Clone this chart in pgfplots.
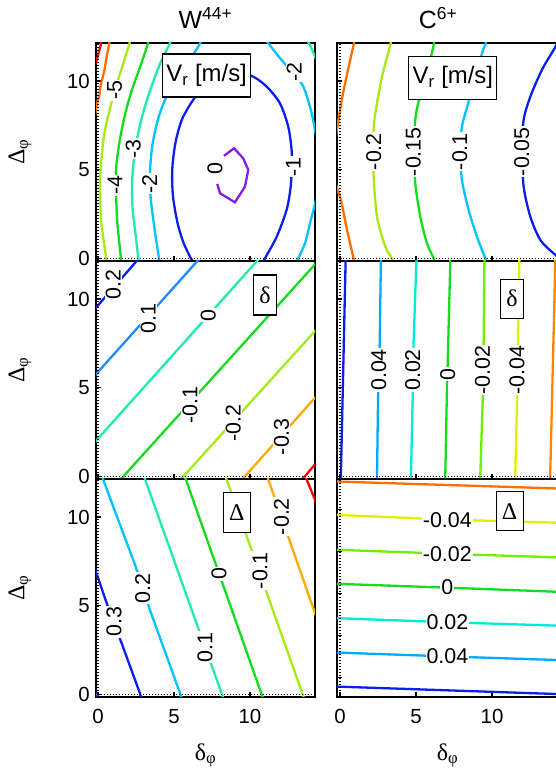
\documentclass[border=0pt]{standalone}
\usepackage{pgfplots}
\pgfplotsset{compat=1.18}
\usepackage{fontspec}
\setmainfont{Liberation Sans}
\newfontfamily\grk{Liberation Serif}

% jet-like contour colours
\definecolor{cRed}{RGB}{250,0,0}
\definecolor{cOrange}{RGB}{255,110,0}
\definecolor{cOrangeB}{RGB}{255,135,0}
\definecolor{cAmber}{RGB}{255,170,0}
\definecolor{cYellow}{RGB}{225,240,0}
\definecolor{cYG}{RGB}{165,235,20}
\definecolor{cLime}{RGB}{110,240,0}
\definecolor{cGreen}{RGB}{20,220,30}
\definecolor{cTeal}{RGB}{30,235,175}
\definecolor{cAqua}{RGB}{0,235,215}
\definecolor{cCyan}{RGB}{0,195,255}
\definecolor{cSky}{RGB}{0,170,255}
\definecolor{cMid}{RGB}{30,140,255}
\definecolor{cBlue}{RGB}{10,30,240}
\definecolor{cPurple}{RGB}{130,30,230}

\newcommand\tickfont{\fontsize{20.5}{21}\selectfont}
\newcommand\lblfont{\fontsize{21.5}{22}\selectfont}
\newcommand\bigfont{\fontsize{24}{26}\selectfont}
\newcommand\titlefont{\fontsize{25}{27}\selectfont}

\pgfplotsset{
  panel/.style={
    scale only axis, height=218bp,
    ymin=-0.15, ymax=12.15,
    axis line style={line width=1.8bp},
    tick style={line width=1.3bp, black},
    major tick length=5bp,
    tick align=inside,
    xtick pos=left, ytick pos=left,
    xtick={0,5,10}, ytick={0,5,10},
    tick label style={font=\tickfont, inner sep=0pt},
    xticklabel style={yshift=-12bp},
    yticklabel style={xshift=-6bp},
    /pgf/number format/assume math mode=true,
    every axis title/.style={at={(axis description cs:0.5,1)}, anchor=south,
      yshift=14bp, inner sep=0pt, font=\titlefont},
    every axis x label/.style={at={(axis description cs:0.5,-0.268)},
      anchor=center, font=\bigfont\grk},
    every axis y label/.style={at={(axis description cs:-0.347,0.5)},
      rotate=90, anchor=center, font=\bigfont\grk},
  },
  leftcol/.style={panel, width=219bp, xmin=-0.13, xmax=14.28},
  rightcol/.style={panel, width=221bp, xmin=-0.2, xmax=14.34, yticklabels={}},
  nox/.style={xticklabels={}},
  cl/.style={line width=2.3bp},
  zl/.style={line width=1.4bp, dash pattern=on 1.4bp off 1.6bp, black},
}
\tikzset{
  lab/.style={font=\lblfont, fill=white, inner sep=1bp, rotate=90},
  hlab/.style={font=\lblfont, fill=white, inner sep=1bp},
  tag/.style={draw, line width=1.3bp, fill=white, inner sep=0pt, font=\bigfont},
}

\begin{document}
\begin{tikzpicture}

% ---------------- V_r, W44+ ----------------
\begin{axis}[leftcol, nox, at={(96bp,509bp)}, anchor=south west,
  title={W\textsuperscript{44+}}, ylabel={Δ\textsubscript{φ}}]
\addplot[cl, cRed, smooth] coordinates {(0.25,12.3) (0.18,12.02) (0.0,11.46) (-0.15,11.0)};
\addplot[cl, cOrange, smooth] coordinates {(0.78,12.3) (0.72,12.02) (0.55,11.27) (0.40,10.52) (0.18,9.76) (0.07,9.11) (-0.04,8.82) (-0.3,7.5)};
\addplot[cl, cYG, smooth] coordinates {(2.1,12.3) (2.04,12.02) (1.45,10.42) (1.10,9.48) (0.79,8.45) (0.40,6.94) (0.18,5.06) (0.13,3.74) (0.22,2.05) (0.51,0.17) (0.55,-0.2)};
\addplot[cl, cGreen, smooth] coordinates {(3.32,12.3) (3.25,12.02) (2.81,10.89) (2.26,9.57) (1.82,8.26) (1.49,6.94) (1.23,5.44) (1.15,4.3) (1.20,3.37) (1.27,2.05) (1.49,0.17) (1.55,-0.2)};
\addplot[cl, cTeal, smooth] coordinates {(4.8,12.3) (4.67,12.02) (4.23,11.27) (3.79,10.33) (3.25,9.01) (2.81,7.69) (2.52,6.5) (2.33,5.3) (2.24,4.2) (2.28,2.80) (2.48,1.30) (2.65,0.02) (2.7,-0.2)};
\addplot[cl, cTeal, smooth] coordinates {(13.75,12.3) (13.95,12.04) (14.28,11.38) (14.5,10.9)};
\addplot[cl, cCyan, smooth] coordinates {(6.75,12.3) (6.65,12.02) (5.66,10.70) (4.45,9.01) (3.90,7.69) (3.58,6.38) (3.43,5.06) (3.42,4.21) (3.47,3.37) (3.69,1.86) (4.01,0.02) (4.05,-0.2)};
\addplot[cl, cCyan, smooth] coordinates {(11.0,12.4) (11.21,12.13) (12.08,11.19) (12.9,10.4) (13.51,9.69) (14.06,8.18) (14.5,6.0) (14.5,4.0) (13.95,1.97) (13.62,0.85) (13.18,0) (13.1,-0.2)};
\addplot[cl, cBlue, smooth] coordinates {(6.3,-0.2) (6.10,0.02) (5.61,0.92) (5.22,2.05) (4.93,3.56) (4.89,5.06) (5.11,6.57) (5.55,7.88) (6.32,9.01) (7.2,9.9) (8.5,10.35) (9.5,10.4) (10.22,10.25) (11.10,9.69) (11.97,8.75) (12.52,7.43) (12.74,6.11) (12.75,5.17) (12.68,4.04) (12.41,2.73) (11.76,1.22) (10.99,0) (10.9,-0.2)};
\addplot[cl, cPurple] coordinates {(8.29,5.78) (8.95,6.21) (9.56,5.64) (9.89,4.99) (9.67,4.04) (9.01,3.16) (8.03,3.67) (7.85,4.20)};
\addplot[zl] coordinates {(0,-1) (0,13)};
\addplot[zl] coordinates {(-1,0) (15,0)};
\node[lab] at (axis cs:1.10,9.48) {-5};
\node[lab] at (axis cs:1.12,4.12) {-4};
\node[lab] at (axis cs:2.32,6.19) {-3};
\node[lab] at (axis cs:3.40,4.21) {-2};
\node[lab] at (axis cs:7.70,5.08) {0};
\node[lab] at (axis cs:12.85,5.17) {-1};
\node[lab] at (axis cs:12.9,10.53) {-2};
\node[tag, minimum width=88bp, minimum height=43bp] at (axis cs:7.15,10.32) {V\textsubscript{r} [m/s]};
\end{axis}

% ---------------- V_r, C6+ ----------------
\begin{axis}[rightcol, nox, at={(337bp,509bp)}, anchor=south west,
  title={C\textsuperscript{6+}}, title style={at={(axis description cs:0.457,1)}}]
\addplot[cl, cOrange, smooth] coordinates {(0.95,12.4) (0.89,12.04) (0.57,10.82) (0.24,9.50) (0.08,8.75) (-0.3,6.6) (-0.3,4.4) (0.06,3.29) (0.46,1.60) (0.89,0) (0.95,-0.2)};
\addplot[cl, cYG, smooth] coordinates {(3.38,12.4) (3.31,12.04) (2.76,10.25) (2.32,8.18) (2.21,7.24) (2.18,6.0) (2.21,4.61) (2.43,2.35) (2.98,0.66) (3.42,0) (3.5,-0.2)};
\addplot[cl, cGreen, smooth] coordinates {(6.2,12.4) (6.16,12.04) (5.72,10.44) (5.17,8.84) (4.95,7.81) (4.88,6.0) (4.95,4.23) (5.28,2.35) (5.72,0.85) (6.16,0) (6.25,-0.2)};
\addplot[cl, cCyan, smooth] coordinates {(9.6,12.4) (9.56,12.04) (9.34,11.57) (8.46,8.84) (8.02,7.43) (7.92,6.0) (8.02,4.42) (8.46,2.73) (9.01,1.22) (9.56,0) (9.65,-0.2)};
\addplot[cl, cBlue, smooth] coordinates {(14.6,12.6) (14.05,11.76) (13.28,10.63) (12.52,9.12) (12.08,7.81) (11.98,6.0) (12.08,4.04) (12.52,2.35) (13.18,1.03) (14.05,0.28) (14.6,-0.1)};
\addplot[zl] coordinates {(0,-1) (0,13)};
\addplot[zl] coordinates {(-1,0) (15,0)};
\node[lab] at (axis cs:2.22,6.02) {-0.2};
\node[lab] at (axis cs:4.82,6.02) {-0.15};
\node[lab] at (axis cs:7.88,6.02) {-0.1};
\node[lab] at (axis cs:11.95,6.02) {-0.05};
\node[tag, minimum width=88bp, minimum height=43bp] at (axis cs:7.42,10.19) {V\textsubscript{r} [m/s]};
\end{axis}

% ---------------- delta, W44+ ----------------
\begin{axis}[leftcol, nox, at={(96bp,291bp)}, anchor=south west,
  ylabel={Δ\textsubscript{φ}}]
\addplot[cl, cBlue] coordinates {(-0.3,9.35) (2.7,12.3)};
\addplot[cl, cMid] coordinates {(-0.3,5.6) (6.7,12.3)};
\addplot[cl, cTeal] coordinates {(-0.3,1.84) (10.62,12.3)};
\addplot[cl, cGreen] coordinates {(1.46,-0.2) (14.6,12.26)};
\addplot[cl, cYG] coordinates {(5.41,-0.2) (14.6,8.5)};
\addplot[cl, cAmber] coordinates {(9.46,-0.2) (14.6,4.74)};
\addplot[cl, cRed] coordinates {(13.42,-0.2) (14.6,1.0)};
\addplot[zl] coordinates {(0,-1) (0,13)};
\addplot[zl] coordinates {(-1,0) (15,0)};
\node[lab] at (axis cs:1.01,10.80) {0.2};
\node[lab] at (axis cs:3.31,8.92) {0.1};
\node[lab] at (axis cs:7.26,9.10) {0};
\node[lab] at (axis cs:6.05,4.03) {-0.1};
\node[lab] at (axis cs:8.90,2.99) {-0.2};
\node[lab] at (axis cs:12.08,2.24) {-0.3};
\node[tag, font=\bigfont\grk, minimum width=23.5bp, minimum height=40bp] at (axis cs:10.99,10.23) {δ};
\end{axis}

% ---------------- delta, C6+ ----------------
\begin{axis}[rightcol, nox, at={(337bp,291bp)}, anchor=south west]
\addplot[cl, cBlue] coordinates {(0.37,12.3) (0.05,-0.2)};
\addplot[cl, cSky] coordinates {(2.69,12.3) (2.61,7.6) (2.50,4.40) (2.43,-0.2)};
\addplot[cl, cAqua] coordinates {(5.03,12.3) (4.84,7.6) (4.78,4.40) (4.66,-0.2)};
\addplot[cl, cGreen] coordinates {(7.26,12.3) (7.08,6.3) (7.04,5.25) (6.92,-0.2)};
\addplot[cl, cLime] coordinates {(9.5,12.3) (9.45,7.78) (9.38,4.2) (9.22,-0.2)};
\addplot[cl, cYellow] coordinates {(11.8,12.3) (11.73,8.9) (11.64,4.2) (11.52,-0.2)};
\addplot[cl, cOrangeB] coordinates {(14.17,12.3) (13.82,-0.2)};
\addplot[zl] coordinates {(0,-1) (0,13)};
\addplot[zl] coordinates {(-1,0) (15,0)};
\node[lab] at (axis cs:2.54,6.0) {0.04};
\node[lab] at (axis cs:4.78,6.0) {0.02};
\node[lab] at (axis cs:7.08,5.77) {0};
\node[lab] at (axis cs:9.38,6.0) {-0.02};
\node[lab] at (axis cs:11.64,6.0) {-0.04};
\node[tag, font=\bigfont\grk, minimum width=23bp, minimum height=39bp] at (axis cs:11.31,10.02) {δ};
\end{axis}

% ---------------- Delta, W44+ ----------------
\begin{axis}[leftcol, at={(96bp,73bp)}, anchor=south west,
  ylabel={Δ\textsubscript{φ}}, xlabel={δ\textsubscript{φ}}]
\addplot[cl, cPurple] coordinates {(-0.3,0.25) (0.05,-0.2)};
\addplot[cl, cBlue] coordinates {(-0.3,7.3) (0.02,6.55) (0.46,5.42) (1.01,4.1) (1.56,2.88) (2.76,0.06) (2.85,-0.2)};
\addplot[cl, cCyan] coordinates {(0.28,12.3) (0.35,12.10) (2.44,7.30) (2.98,5.95) (3.42,4.76) (5.40,0.06) (5.5,-0.2)};
\addplot[cl, cTeal] coordinates {(3.03,12.3) (8.24,-0.2)};
\addplot[cl, cGreen] coordinates {(5.71,12.3) (10.85,-0.2)};
\addplot[cl, cYG] coordinates {(8.39,12.3) (13.55,-0.2)};
\addplot[cl, cAmber] coordinates {(11.13,12.3) (14.6,3.8)};
\addplot[cl, cRed] coordinates {(13.65,12.3) (14.6,10.3)};
\addplot[zl] coordinates {(0,-1) (0,13)};
\addplot[zl] coordinates {(-1,0) (15,0)};
\node[lab] at (axis cs:1.05,4.10) {0.3};
\node[lab] at (axis cs:2.94,5.98) {0.2};
\node[lab] at (axis cs:7.04,2.65) {0.1};
\node[lab] at (axis cs:7.96,6.79) {0};
\node[lab] at (axis cs:10.66,6.98) {-0.1};
\node[lab] at (axis cs:12.08,10.03) {-0.2};
\node[tag, font=\bigfont\grk, minimum width=27bp, minimum height=40bp] at (axis cs:9.13,10.26) {Δ};
\end{axis}

% ---------------- Delta, C6+ ----------------
\begin{axis}[rightcol, at={(337bp,73bp)}, anchor=south west,
  ytick={0.96,3.33,5.7,8.07,10.44}, xlabel={δ\textsubscript{φ}}]
\addplot[cl, cOrange] coordinates {(-0.3,12.01) (14.5,11.61)};
\addplot[cl, cYellow] coordinates {(-0.3,10.13) (7.03,9.86) (14.5,9.68)};
\addplot[cl, cLime] coordinates {(-0.3,8.16) (7.03,7.93) (14.5,7.72)};
\addplot[cl, cGreen] coordinates {(-0.3,6.24) (7.03,6.02) (14.5,5.78)};
\addplot[cl, cAqua] coordinates {(-0.3,4.30) (7.03,4.07) (14.5,3.87)};
\addplot[cl, cSky] coordinates {(-0.3,2.36) (7.03,2.14) (14.5,1.93)};
\addplot[cl, cBlue] coordinates {(-0.3,0.44) (14.5,0.01)};
\addplot[zl] coordinates {(0,-1) (0,13)};
\node[hlab] at (axis cs:7.06,9.84) {-0.04};
\node[hlab] at (axis cs:7.06,7.92) {-0.02};
\node[hlab] at (axis cs:7.06,6.04) {0};
\node[hlab] at (axis cs:7.06,4.08) {0.02};
\node[hlab] at (axis cs:7.06,2.16) {0.04};
\node[tag, font=\bigfont\grk, minimum width=27bp, minimum height=39bp] at (axis cs:11.16,10.33) {Δ};
\end{axis}

\pgfresetboundingbox
\path[use as bounding box] (0,0) rectangle (556bp,770bp);
\end{tikzpicture}
\end{document}
